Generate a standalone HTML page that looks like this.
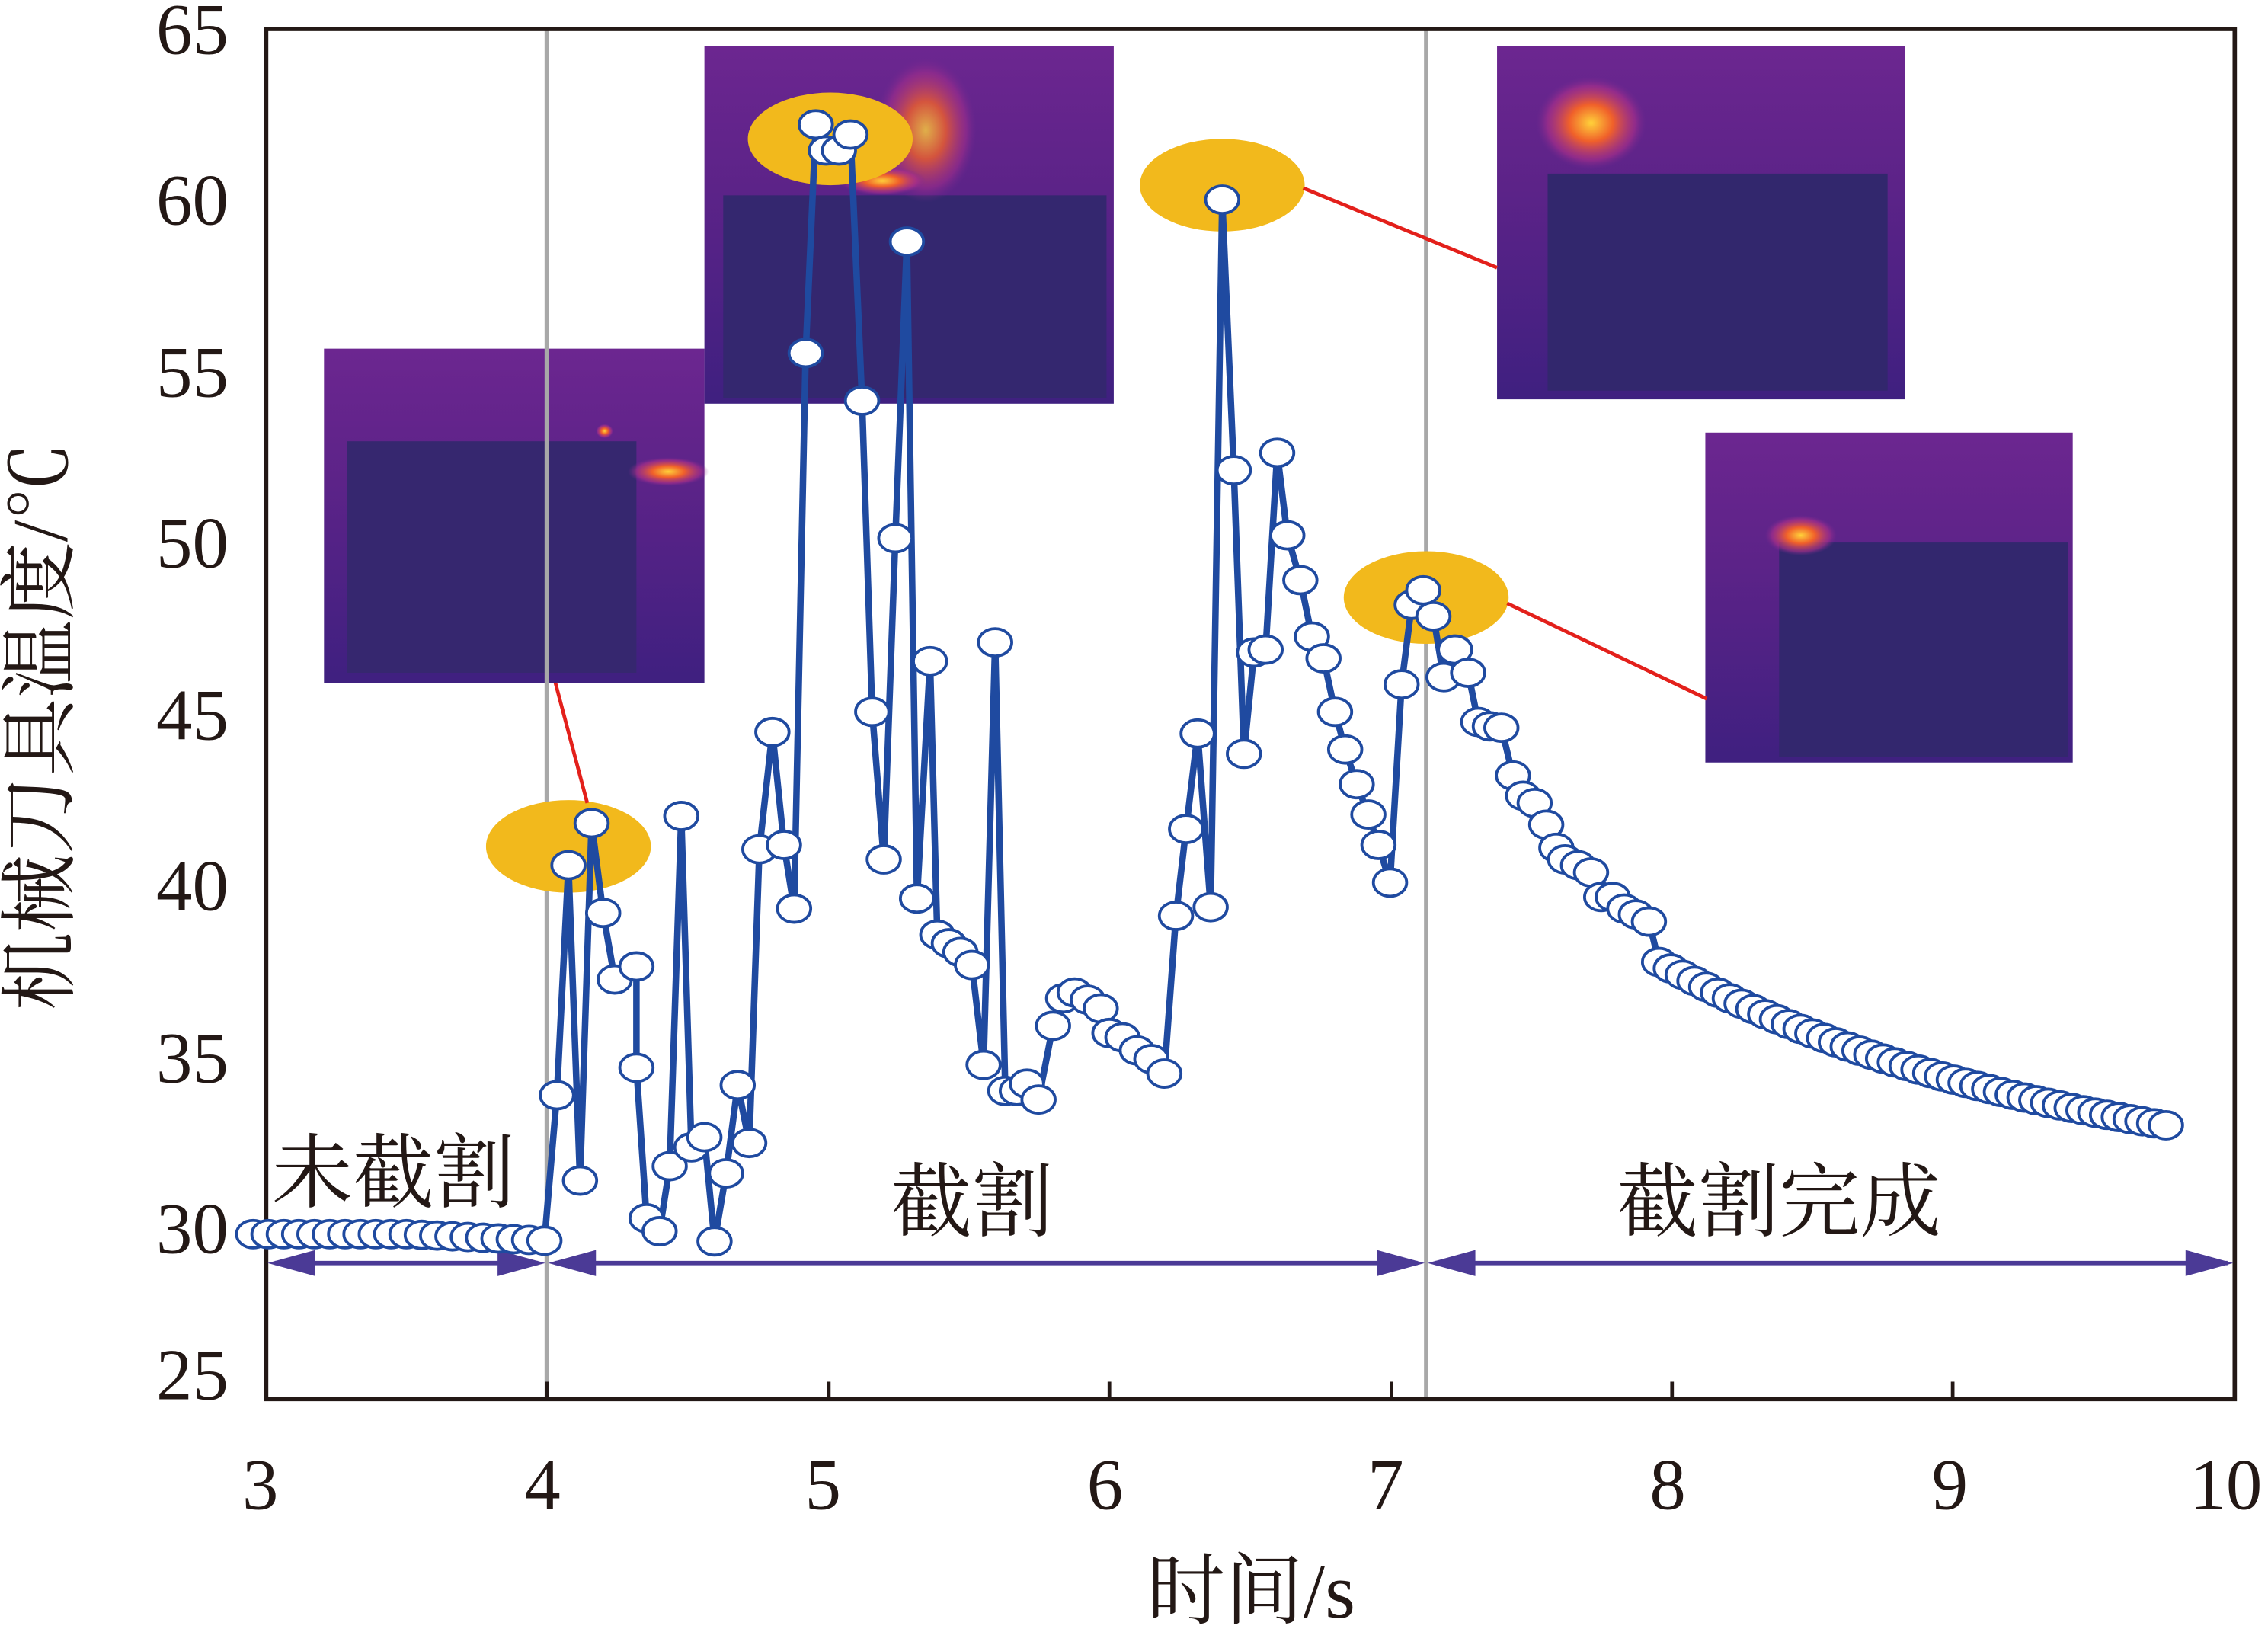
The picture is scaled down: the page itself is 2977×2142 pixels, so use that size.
<!DOCTYPE html>
<html><head><meta charset="utf-8"><style>
html,body{margin:0;padding:0;background:#fff}
svg{display:block}
text{font-family:"Liberation Serif","Noto Serif CJK SC",serif;fill:#231815}
.cj{font-family:"Liberation Serif","Noto Serif CJK SC","Noto Sans CJK SC",serif}
</style></head><body>
<svg id="s" width="2977" height="2142" viewBox="0 0 1568 1128" preserveAspectRatio="none" xmlns="http://www.w3.org/2000/svg">
<defs>
<radialGradient id="hot" cx="50%" cy="50%" r="50%"><stop offset="0" stop-color="#ffd23a"/><stop offset="0.4" stop-color="#f0602a"/><stop offset="0.8" stop-color="#b0308a" stop-opacity="0.6"/><stop offset="1" stop-color="#7a2a90" stop-opacity="0"/></radialGradient>
<linearGradient id="bg" x1="0" y1="0" x2="0" y2="1"><stop offset="0" stop-color="#6c2690"/><stop offset="0.4" stop-color="#5c2388"/><stop offset="1" stop-color="#3f2080"/></linearGradient>
</defs>
<rect width="1568" height="1128" fill="#fff"/>
<g>
<rect x="224" y="241" width="263" height="231" fill="url(#bg)"/>
<rect x="240" y="305" width="200" height="160" fill="#36276f"/>
<ellipse cx="462" cy="326" rx="28" ry="10" fill="url(#hot)"/>
<ellipse cx="418" cy="298" rx="6" ry="5" fill="url(#hot)"/>
<rect x="487" y="32" width="283" height="247" fill="url(#bg)"/>
<rect x="500" y="135" width="265" height="140" fill="#34276f"/>
<ellipse cx="640" cy="90" rx="35" ry="50" fill="url(#hot)" opacity="0.8"/>
<ellipse cx="610" cy="125" rx="30" ry="10" fill="url(#hot)"/>
<rect x="1035" y="32" width="282" height="244" fill="url(#bg)"/>
<rect x="1070" y="120" width="235" height="150" fill="#32276d"/>
<ellipse cx="1100" cy="85" rx="38" ry="32" fill="url(#hot)"/>
<rect x="1179" y="299" width="254" height="228" fill="url(#bg)"/>
<rect x="1230" y="375" width="200" height="148" fill="#33276e"/>
<ellipse cx="1245" cy="370" rx="25" ry="14" fill="url(#hot)"/>
</g>
<line x1="378" y1="20" x2="378" y2="967" stroke="#a8a8a8" stroke-width="3"/>
<line x1="986" y1="20" x2="986" y2="967" stroke="#a8a8a8" stroke-width="3"/>
<g fill="#f2b91c">
<ellipse cx="393" cy="585" rx="57" ry="32"/>
<ellipse cx="574" cy="96" rx="57" ry="32"/>
<ellipse cx="845" cy="128" rx="57" ry="32"/>
<ellipse cx="986" cy="413" rx="57" ry="32"/>
</g>
<g stroke="#e3201b" stroke-width="2.5">
<line x1="406" y1="555" x2="384" y2="472"/>
<line x1="901" y1="130" x2="1035" y2="185"/>
<line x1="1042" y1="417" x2="1180" y2="483"/>
</g>
<g stroke="#231815" stroke-width="3" fill="none">
<rect x="184" y="20" width="1361" height="947"/>
</g>
<g stroke="#231815" stroke-width="2.5">
<line x1="378" y1="967" x2="378" y2="955"/><line x1="573" y1="967" x2="573" y2="955"/><line x1="767" y1="967" x2="767" y2="955"/><line x1="962" y1="967" x2="962" y2="955"/><line x1="1156" y1="967" x2="1156" y2="955"/><line x1="1350" y1="967" x2="1350" y2="955"/>
</g>
<g font-size="50" text-anchor="end">
<text x="158" y="37">65</text><text x="158" y="155">60</text><text x="158" y="274">55</text><text x="158" y="392">50</text><text x="158" y="511">45</text><text x="158" y="629">40</text><text x="158" y="748">35</text><text x="158" y="866">30</text><text x="158" y="967">25</text>
</g>
<g font-size="50" text-anchor="middle">
<text x="180" y="1043">3</text><text x="375" y="1043">4</text><text x="569" y="1043">5</text><text x="764" y="1043">6</text><text x="958" y="1043">7</text><text x="1153" y="1043">8</text><text x="1348" y="1043">9</text><text x="1539" y="1043">10</text>
</g>
<text class="cj" x="865" y="1118" font-size="54" text-anchor="middle">时间/s</text>
<text class="cj" transform="translate(46,502) rotate(-90)" font-size="54" text-anchor="middle">机械刀具温度/℃</text>
<text class="cj" x="188" y="830" font-size="56">未截割</text>
<text class="cj" x="672" y="850" font-size="56" text-anchor="middle">截割</text>
<text class="cj" x="1230" y="850" font-size="56" text-anchor="middle">截割完成</text>
<g stroke="#4b3a96" stroke-width="3">
<line x1="190" y1="873" x2="372" y2="873"/><line x1="384" y1="873" x2="980" y2="873"/><line x1="992" y1="873" x2="1540" y2="873"/>
</g>
<g fill="#4b3a96">
<polygon points="185,873 218,864 218,882"/><polygon points="377,873 344,864 344,882"/>
<polygon points="379,873 412,864 412,882"/><polygon points="985,873 952,864 952,882"/>
<polygon points="987,873 1020,864 1020,882"/><polygon points="1544,873 1511,864 1511,882"/>
</g>
<g id="ser"></g>
</svg>
<script>
var p=[];
for(var i=0;i<20;i++){p.push([175+i*10.6,853+ (i>10?(i-10)*0.5:0)]);}
p=p.concat([[385,757],[393,598],[401,816],[409,569],[417,631],[425,677],[440,668],[440,738],[447,842],[456,851],[463,806],[471,564],[478,793],[487,786],[494,858],[502,811],[510,750],[518,790],[525,587],[534,506],[542,584],[549,628],[557,244],[564,86],[571,104],[580,104],[588,93],[596,277],[603,492],[611,594],[619,372],[627,167],[634,621],[643,457],[648,646],[656,652],[664,658],[672,667],[680,736],[688,444],[695,754],[703,754],[710,749],[718,760],[728,709],[735,690],[743,686],[752,691],[761,697],[767,714],[776,717],[786,726],[796,732],[805,742],[813,633],[820,573],[828,507],[837,627],[845,138],[853,325],[860,521],[867,451],[875,449],[883,313],[890,370],[899,401],[907,440],[915,455],[923,492],[930,518],[938,542],[946,563],[953,584],[961,610],[969,473],[976,418],[984,408],[991,426],[998,468],[1006,449],[1015,465],[1022,499],[1030,502],[1038,503],[1046,536],[1053,550],[1061,555],[1069,570],[1076,586],[1082,594],[1091,598],[1100,603],[1107,620],[1115,620],[1123,628],[1131,632],[1140,637]]);
for(var x=1147;x<=1498;x+=8.15){var T=31+6.76*Math.exp(-(x-1147)/287);p.push([x,967-(T-25)*23.675]);}
var NS="http://www.w3.org/2000/svg",g=document.getElementById("ser");
var d="M"+p.slice(19).map(function(q){return q[0].toFixed(1)+","+q[1].toFixed(1)}).join(" L");
var path=document.createElementNS(NS,"path");path.setAttribute("d",d);path.setAttribute("fill","none");path.setAttribute("stroke","#1f4aa0");path.setAttribute("stroke-width","4.5");path.setAttribute("stroke-linejoin","round");g.appendChild(path);
p.forEach(function(q){var e=document.createElementNS(NS,"ellipse");e.setAttribute("cx",q[0]);e.setAttribute("cy",q[1]);e.setAttribute("rx",11.5);e.setAttribute("ry",9.5);e.setAttribute("fill","#fff");e.setAttribute("stroke","#1f4aa0");e.setAttribute("stroke-width","2");g.appendChild(e);});
</script>
</body></html>
